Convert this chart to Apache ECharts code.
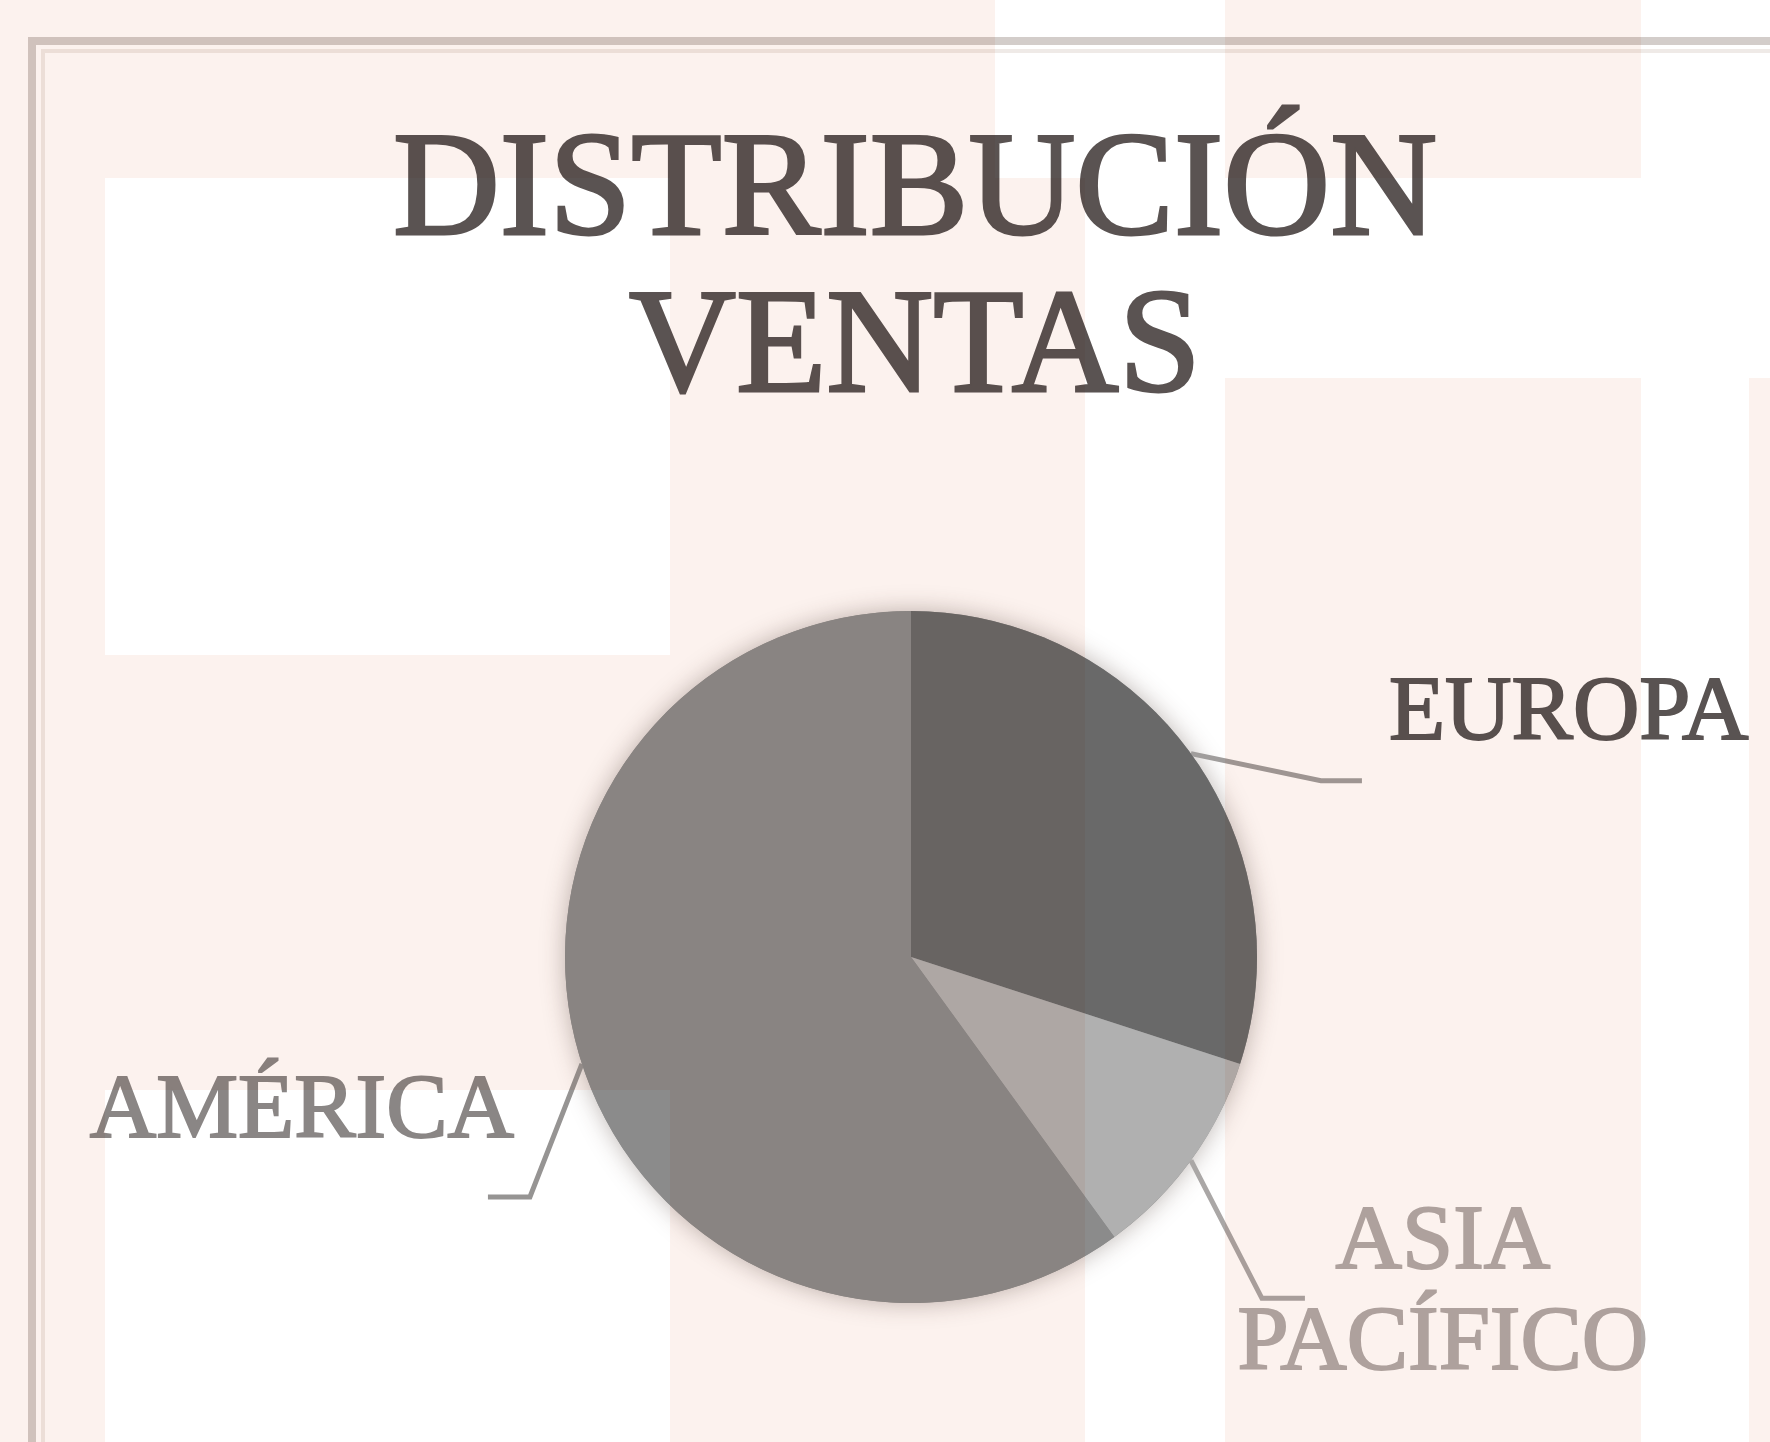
<!DOCTYPE html>
<html>
<head>
<meta charset="utf-8">
<script src="https://cdn.jsdelivr.net/npm/echarts@6/dist/echarts.min.js"></script>
<style>
  html, body { margin: 0; padding: 0; background: #fff; }
  #chart { width: 1770px; height: 1442px; }
</style>
</head>
<body>
<div id="chart"></div>
<script>
const regions = ["EUROPA", "ASIA PACÍFICO", "AMÉRICA"];
const shares = [30, 10, 60];
const sliceColors = ["#696969", "#b0b0b0", "#8b8b8b"];
const labelColors = ["#595352", "#b0aaa8", "#8a8685"];
const lineColors = ["#a09d9c", "#aaa7a6", "#969493"];

// leader line bend / tail and text offset, relative to the slice edge point
const labelGeom = [
  { bend: [130, 27], tail: 41, text: [27, -66], align: "left" },
  { bend: [71, 138], tail: 43, text: [138, -4], align: "center" },
  { bend: [-52, 133], tail: -42, text: [26, -84], align: "right" }
];

const serif = "'Liberation Serif', 'DejaVu Serif', serif";
const pink = "#fcf2ee";

// faint pink watermark blocks (multiplied over the whole picture), no overlaps
const blocks = [
  [0, 0, 105, 1442],
  [105, 0, 890, 178],
  [1225, 0, 416, 178],
  [105, 655, 565, 435],
  [670, 178, 415, 1264],
  [1225, 378, 416, 1064],
  [1749, 378, 21, 1064]
];

const chart = echarts.init(document.getElementById("chart"), null, { renderer: "canvas" });

const graphics = [
  { type: "polyline", z: 50, silent: true,
    shape: { points: [[32, 1500], [32, 41], [1800, 41]] },
    style: { stroke: "#d3cdca", lineWidth: 8, fill: null } },
  { type: "polyline", z: 50, silent: true,
    shape: { points: [[43, 1500], [43, 51], [1800, 51]] },
    style: { stroke: "#efeae7", lineWidth: 4, fill: null } }
].concat(blocks.map(function (b) {
  return {
    type: "rect", z: 100, silent: true,
    shape: { x: b[0], y: b[1], width: b[2], height: b[3] },
    style: { fill: pink, blend: "multiply" }
  };
}));

chart.setOption({
  backgroundColor: "#ffffff",
  animation: false,
  title: {
    text: "DISTRIBUCIÓN\nVENTAS",
    left: 910,
    top: 112,
    textAlign: "center",
    textStyle: {
      fontFamily: serif,
      fontSize: 148,
      fontWeight: "normal",
      lineHeight: 157,
      color: "#5a5352",
      textBorderColor: "#5a5352",
      textBorderWidth: 3
    }
  },
  graphic: graphics,
  series: [
    {
      // soft shadow disc under the slices
      type: "pie",
      silent: true,
      z: 1,
      center: [911, 957],
      radius: 346,
      label: { show: false },
      labelLine: { show: false },
      data: [{ value: 1, name: "", itemStyle: { color: "#8b8b8b", shadowBlur: 24, shadowColor: "rgba(70,50,40,0.35)" } }]
    },
    {
      type: "pie",
      z: 2,
      center: [911, 957],
      radius: 346,
      startAngle: 90,
      clockwise: true,
      avoidLabelOverlap: false,
      itemStyle: { borderWidth: 0 },
      label: {
        show: true,
        position: "outside",
        fontFamily: serif,
        fontSize: 92,
        lineHeight: 101,
        textBorderWidth: 2,
        formatter: function (p) { return p.name.replace(" ", "\n"); }
      },
      labelLine: { show: true, length: 40, length2: 40, smooth: false, lineStyle: { width: 5 } },
      labelLayout: function (params) {
        const pts = params.labelLinePoints;
        const g = labelGeom[params.dataIndex];
        if (!pts || !g) return {};
        const p0 = pts[0];
        const p1 = [p0[0] + g.bend[0], p0[1] + g.bend[1]];
        const p2 = [p1[0] + g.tail, p1[1]];
        return {
          x: p2[0] + g.text[0],
          y: p2[1] + g.text[1],
          align: g.align,
          verticalAlign: "middle",
          labelLinePoints: [p0, p1, p2]
        };
      },
      data: regions.map(function (name, i) {
        return {
          name: name,
          value: shares[i],
          itemStyle: { color: sliceColors[i] },
          label: { color: labelColors[i], textBorderColor: labelColors[i], align: labelGeom[i].align },
          labelLine: { lineStyle: { color: lineColors[i], width: 5 } }
        };
      })
    }
  ]
});
</script>
</body>
</html>
